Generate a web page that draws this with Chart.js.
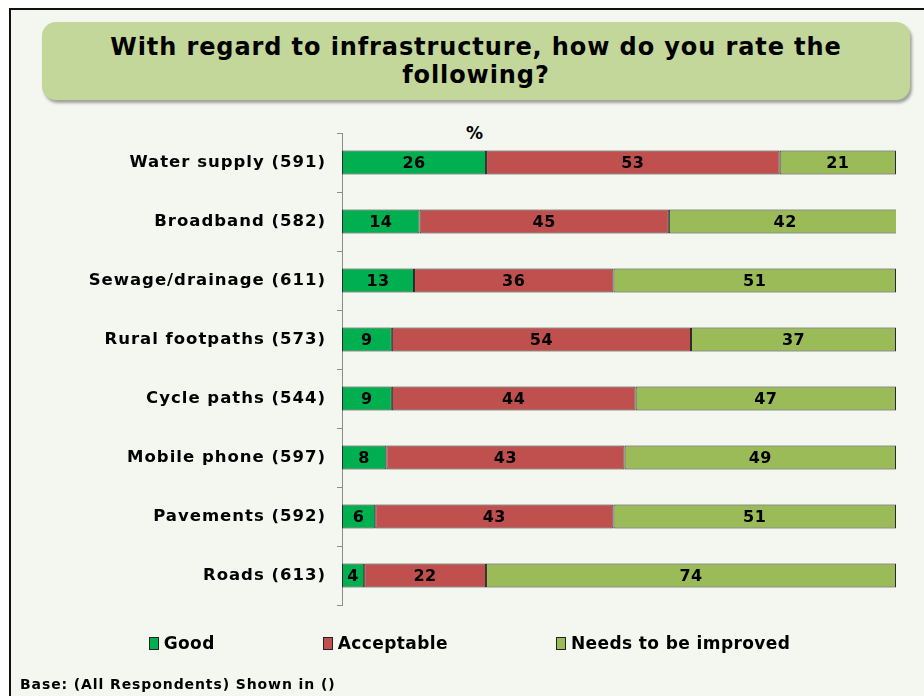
<!DOCTYPE html>
<html>
<head>
<meta charset="utf-8">
<script src="https://cdn.jsdelivr.net/npm/chart.js@4.4.1/dist/chart.umd.min.js"></script>
<style>
  html, body { margin: 0; padding: 0; }
  body {
    width: 924px; height: 696px; overflow: hidden; position: relative;
    background: #ffffff; font-family: "DejaVu Sans", Verdana, sans-serif;
  }
  #frame {
    position: absolute; left: 9px; top: 8px; width: 930px; height: 700px;
    border: 2px solid #111; background: #f4f7ef; box-sizing: border-box;
  }
  #titleBox {
    position: absolute; left: 42px; top: 22px; width: 868px; height: 78px;
    background: #c4d79b; border-radius: 14px;
    box-shadow: 2px 3px 3px rgba(0, 0, 0, 0.35);
    display: flex; align-items: center; justify-content: center; text-align: center;
    font-weight: bold; font-size: 24px; letter-spacing: 0.9px; line-height: 28px; color: #000;
  }
  #pct {
    position: absolute; left: 466px; top: 123px; font-weight: bold; font-size: 17px;
  }
  #chartWrap { position: absolute; left: 0; top: 0; width: 924px; height: 696px; }
  #legendCon { position: absolute; left: 0; top: 633px; width: 924px; }
  #legendCon ul {
    display: flex; justify-content: center; margin: 0; padding: 0 0 0 15px; list-style: none;
  }
  #legendCon li {
    display: flex; align-items: center; margin: 0 54px;
    font-weight: bold; font-size: 17px; letter-spacing: 0.4px;
  }
  #footer {
    position: absolute; left: 20px; top: 676px; font-weight: bold; font-size: 14px; letter-spacing: 0.9px;
  }
</style>
</head>
<body>
<div id="frame"></div>
<div id="titleBox">With regard to infrastructure, how do you rate the<br>following?</div>
<div id="pct">%</div>
<div id="chartWrap"><canvas id="myChart"></canvas></div>
<div id="legendCon"></div>
<div id="footer">Base: (All Respondents) Shown in ()</div>

<script>
const categories = [
  "Water supply (591)",
  "Broadband (582)",
  "Sewage/drainage (611)",
  "Rural footpaths (573)",
  "Cycle paths (544)",
  "Mobile phone (597)",
  "Pavements (592)",
  "Roads (613)",
];
const good = [26, 14, 13, 9, 9, 8, 6, 4];
const acceptable = [53, 45, 36, 54, 44, 43, 43, 22];
const needsImproving = [21, 42, 51, 37, 47, 49, 51, 74];

const getOrCreateLegendList = (id) => {
  const legendContainer = document.getElementById(id);
  let listContainer = legendContainer.querySelector("ul");
  if (!listContainer) {
    listContainer = document.createElement("ul");
    legendContainer.appendChild(listContainer);
  }
  return listContainer;
};

const htmlLegendPlugin = {
  id: "htmlLegend",
  afterUpdate(chart, args, options) {
    const ul = getOrCreateLegendList(options.containerID);
    while (ul.firstChild) {
      ul.firstChild.remove();
    }
    const items = chart.options.plugins.legend.labels.generateLabels(chart);
    items.forEach((item) => {
      const li = document.createElement("li");
      const boxSpan = document.createElement("span");
      boxSpan.style.background = item.fillStyle;
      boxSpan.style.border = "1px solid #222";
      boxSpan.style.display = "inline-block";
      boxSpan.style.width = "8px";
      boxSpan.style.height = "11px";
      boxSpan.style.marginRight = "5px";
      const text = document.createElement("span");
      text.textContent = item.text;
      li.appendChild(boxSpan);
      li.appendChild(text);
      ul.appendChild(li);
    });
  },
};

// wider lettering, closer to the original Verdana
const wideText = {
  id: "wideText",
  beforeDraw(chart) {
    chart.ctx.letterSpacing = "1px";
  },
};

// values written in the middle of every segment
const barLabels = {
  id: "barLabels",
  afterDatasetsDraw(chart) {
    const ctx = chart.ctx;
    ctx.save();
    ctx.letterSpacing = "0.5px";
    ctx.font = "bold 16px 'DejaVu Sans'";
    ctx.fillStyle = "#000";
    ctx.textAlign = "center";
    ctx.textBaseline = "middle";
    chart.data.datasets.forEach((ds, i) => {
      chart.getDatasetMeta(i).data.forEach((bar, j) => {
        const x = (bar.x + bar.base) / 2;
        ctx.fillText(ds.data[j], x, bar.y + 1);
      });
    });
    ctx.restore();
  },
};

const barStyle = {
  borderColor: "#2a2a2a",
  borderWidth: 1,
  borderSkipped: false,
  barPercentage: 0.41,
  categoryPercentage: 1,
};

new Chart(document.getElementById("myChart"), {
  type: "bar",
  data: {
    labels: categories,
    datasets: [
      { label: "Good", data: good, backgroundColor: "#00b050", ...barStyle },
      { label: "Acceptable", data: acceptable, backgroundColor: "#c0504d", ...barStyle },
      { label: "Needs to be improved", data: needsImproving, backgroundColor: "#9bbb59", ...barStyle },
    ],
  },
  options: {
    indexAxis: "y",
    responsive: true,
    maintainAspectRatio: false,
    animation: false,
    layout: {
      padding: { top: 133, right: 28, bottom: 91, left: 0 },
    },
    plugins: {
      legend: { display: false },
      tooltip: { enabled: false },
      htmlLegend: { containerID: "legendCon" },
    },
    scales: {
      x: {
        stacked: true,
        min: 0,
        max: 100,
        display: false,
      },
      y: {
        stacked: true,
        afterFit: (scale) => {
          scale.width = 342;
        },
        grid: {
          display: true,
          offset: true,
          drawOnChartArea: false,
          drawTicks: true,
          tickLength: 5,
          color: "#8c8c8c",
        },
        border: { display: true, color: "#8c8c8c", width: 1 },
        ticks: {
          padding: 11,
          color: "#000",
          font: { family: "DejaVu Sans", size: 16.5, weight: "bold" },
        },
      },
    },
  },
  plugins: [wideText, htmlLegendPlugin, barLabels],
});
</script>
</body>
</html>
